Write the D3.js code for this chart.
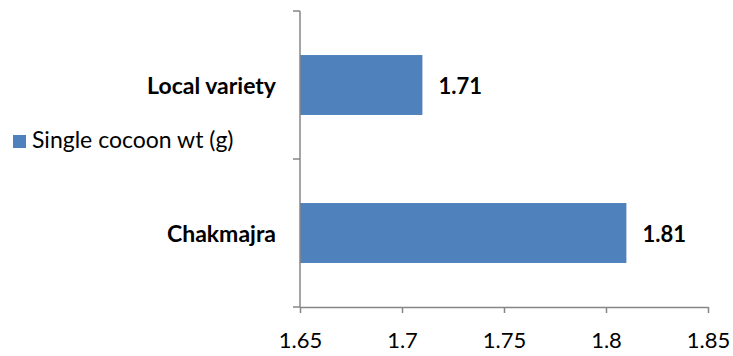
<!DOCTYPE html>
<html>
<head>
<meta charset="utf-8">
<script src="https://cdn.jsdelivr.net/npm/d3@7"></script>
<style>
  body { margin: 0; background: #fff; }
  svg text { font-family: Lato, "Open Sans", sans-serif; fill: #000; }
</style>
</head>
<body>
<svg id="chart" width="733" height="356"></svg>
<script>
// data
var categories = ["Local variety", "Chakmajra"];   // top to bottom
var cocoonWt = [1.71, 1.81];
var xTicks = [1.65, 1.7, 1.75, 1.8, 1.85];
var seriesName = "Single cocoon wt (g)";

var svg = d3.select("#chart");
var axisColor = "#868686",
    barColor = "#4f81bd";

var x = d3.scaleLinear().domain([1.65, 1.85]).range([300, 708]);
var y = d3.scaleBand().domain(categories).range([11, 307]);
var barH = y.bandwidth() * 0.405;

// bars
svg.selectAll("rect.bar")
    .data(categories)
  .enter().append("rect")
    .attr("class", "bar")
    .attr("x", x(1.65))
    .attr("y", function(d) { return y(d) + (y.bandwidth() - barH) / 2; })
    .attr("width", function(d, i) { return x(cocoonWt[i]) - x(1.65); })
    .attr("height", barH)
    .attr("fill", barColor);

// x axis
var xAxis = svg.append("g")
    .attr("transform", "translate(0,307)")
    .call(d3.axisBottom(x).tickValues(xTicks).tickSize(6).tickSizeOuter(0)
      .tickFormat(function(d) { return String(+d.toFixed(2)); }));
xAxis.select(".domain").attr("stroke", axisColor).attr("stroke-width", 1.5);
xAxis.selectAll(".tick line").attr("stroke", axisColor).attr("stroke-width", 1.5);
xAxis.selectAll(".tick text")
    .attr("y", 41).attr("dy", null)
    .style("font-size", "22px").style("font-family", "Lato, sans-serif");

// y axis line + boundary ticks
svg.append("line")
    .attr("x1", 300).attr("x2", 300)
    .attr("y1", y.range()[0]).attr("y2", y.range()[1])
    .attr("stroke", axisColor).attr("stroke-width", 1.5);
var bounds = categories.map(function(d) { return y(d); }).concat([y.range()[1]]);
svg.selectAll("line.ytick")
    .data(bounds)
  .enter().append("line")
    .attr("class", "ytick")
    .attr("x1", 293).attr("x2", 300)
    .attr("y1", function(d) { return d; }).attr("y2", function(d) { return d; })
    .attr("stroke", axisColor).attr("stroke-width", 1.5);

// category labels
svg.selectAll("text.cat")
    .data(categories)
  .enter().append("text")
    .attr("class", "cat")
    .attr("x", 276)
    .attr("y", function(d) { return y(d) + y.bandwidth() / 2 + 9; })
    .attr("text-anchor", "end")
    .style("font-size", "23px").style("font-weight", "bold")
    .text(function(d) { return d; });

// value labels
svg.selectAll("text.val")
    .data(categories)
  .enter().append("text")
    .attr("class", "val")
    .attr("x", function(d, i) { return x(cocoonWt[i]) + 16; })
    .attr("y", function(d) { return y(d) + y.bandwidth() / 2 + 9; })
    .style("font-size", "22px").style("font-weight", "bold")
    .text(function(d, i) { return cocoonWt[i].toFixed(2); });

// legend
var lg = svg.append("g").attr("transform", "translate(13,135)");
lg.append("rect").attr("width", 13).attr("height", 13).attr("fill", barColor);
lg.append("text")
    .attr("x", 19).attr("y", 13)
    .style("font-size", "23px")
    .text(seriesName);
</script>
</body>
</html>
